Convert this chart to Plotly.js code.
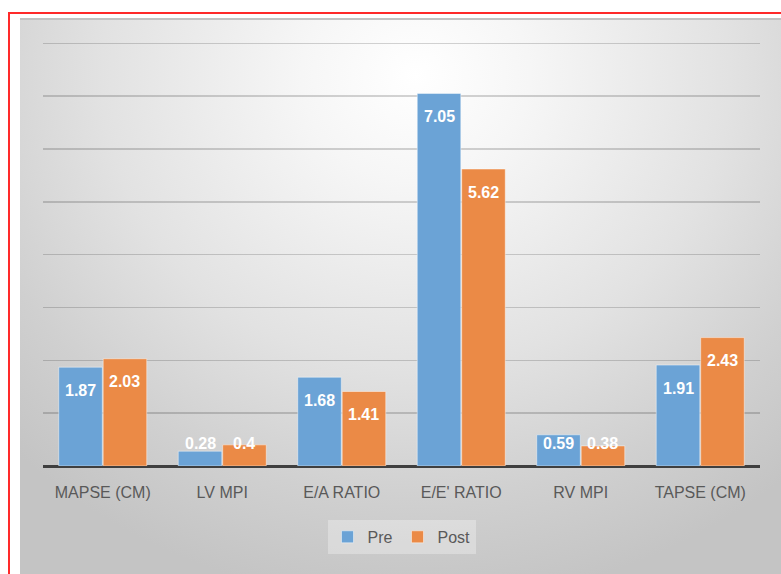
<!DOCTYPE html>
<html>
<head>
<meta charset="utf-8">
<script src="https://cdn.plot.ly/plotly-3.0.1.min.js"></script>
<style>
  html, body { margin: 0; padding: 0; background: #ffffff; width: 781px; height: 574px; overflow: hidden; }
  #frame { position: absolute; left: 8px; top: 12px; width: 800px; height: 600px;
           border-top: 2px solid #ff2a2a; border-left: 2px solid #ff2a2a; }
  #panel { position: absolute; left: 20px; top: 18px; width: 761px; height: 556px;
           border-top: 2px solid #c2c2c2;
           background: radial-gradient(ellipse 75% 95% at 52% 10%, #ffffff 0%, #f6f6f6 20%, #e2e2e2 55%, #d0d0d0 80%, #c4c4c4 100%); }
  #chart { position: absolute; left: 0; top: 0; width: 781px; height: 574px; }
</style>
</head>
<body>
<div id="frame"></div>
<div id="panel"></div>
<div id="chart"></div>
<script>
const categories = ["MAPSE (CM)", "LV MPI", "E/A RATIO", "E/E' RATIO", "RV MPI", "TAPSE (CM)"];
const preValues  = [1.87, 0.28, 1.68, 7.05, 0.59, 1.91];
const postValues = [2.03, 0.40, 1.41, 5.62, 0.38, 2.43];
const seriesNames = ["Pre", "Post"];

const blue = "#6ba3d6";
const orange = "#eb8a46";
const fam = "Liberation Sans, Arial, sans-serif";
const labelFont = { family: fam, size: 16, color: "#ffffff" };

const H = 574, T = 38, B = 108;
const yMax = 8.1;
const ppu = (H - T - B) / yMax;
const bargap = 0.256;
const half = (1 - bargap) / 4;

function labelAnn(values, sign) {
  return values.map((v, i) => {
    const tall = v * ppu - 23 > 23;
    return {
      x: i + sign * half, xref: "x", y: tall ? v : 0, yref: "y",
      yshift: tall ? -23 : 23,
      text: "<b>" + String(v) + "</b>", showarrow: false,
      font: labelFont, xanchor: "center", yanchor: "middle"
    };
  });
}

const traces = [
  { type: "bar", name: seriesNames[0], x: categories, y: preValues,
    marker: { color: blue, line: { color: "rgba(255,255,255,0.45)", width: 1 } }, hoverinfo: "none" },
  { type: "bar", name: seriesNames[1], x: categories, y: postValues,
    marker: { color: orange, line: { color: "rgba(255,255,255,0.45)", width: 1 } }, hoverinfo: "none" }
];

const layout = {
  width: 781, height: 574,
  margin: { l: 43, r: 21, t: T, b: B, pad: 0 },
  paper_bgcolor: "rgba(0,0,0,0)",
  plot_bgcolor: "rgba(0,0,0,0)",
  barmode: "group", bargap: bargap, bargroupgap: 0.02,
  showlegend: true,
  legend: {
    orientation: "h", x: 0.5, xanchor: "center", y: -0.126, yanchor: "top",
    bgcolor: "rgba(255,255,255,0.3)", borderwidth: 0,
    font: { family: fam, size: 16, color: "#595959" },
    itemwidth: 30
  },
  xaxis: {
    type: "category", showgrid: false, showline: false, ticks: "", zeroline: false,
    tickfont: { family: fam, size: 16, color: "#595959" },
    ticklabelstandoff: 15, fixedrange: true
  },
  yaxis: {
    range: [0, yMax], dtick: 1, showticklabels: false, ticks: "",
    showgrid: true, gridcolor: "rgba(0,0,0,0.17)", gridwidth: 1.5,
    zeroline: true, zerolinecolor: "#3f3f3f", zerolinewidth: 3, showline: false, fixedrange: true
  },
  annotations: labelAnn(preValues, -1).concat(labelAnn(postValues, 1))
};

Plotly.newPlot("chart", traces, layout, { displayModeBar: false, staticPlot: true });
</script>
</body>
</html>
